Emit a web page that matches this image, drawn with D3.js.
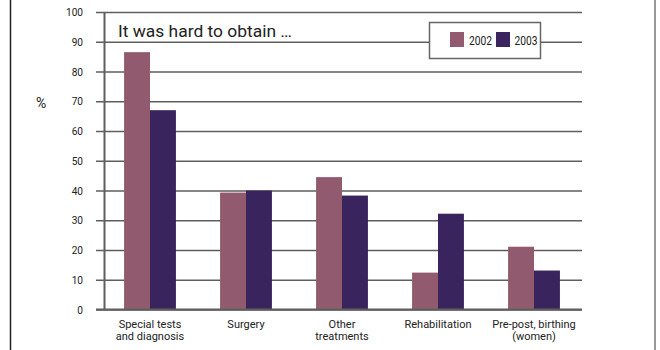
<!DOCTYPE html>
<html><head><meta charset="utf-8">
<script src="https://cdn.jsdelivr.net/npm/d3@7"></script>
<style>
body{margin:0;background:#fff;}
text{font-family:"Roboto","Liberation Sans",sans-serif;fill:#222;}
</style></head>
<body><svg id="c" width="660" height="350"></svg>
<script>
const categories = [["Special tests","and diagnosis"],["Surgery"],["Other","treatments"],["Rehabilitation"],["Pre-post, birthing","(women)"]];
const series = ["2002","2003"];
const values2002 = [86.5, 39.3, 44.5, 12.4, 21.1];
const values2003 = [67, 40, 38.3, 32.2, 13.1];
const yTicks = [0,10,20,30,40,50,60,70,80,90,100];
const colors = ["#925a6f","#3a245d"];

(function(){
const svg = d3.select("#c");
const mLeft = 104, mRight = 582, mTop = 12, mBottom = 309.5;
const x = d3.scaleBand().domain(d3.range(categories.length)).range([mLeft-2, mRight]).paddingInner(0.46).paddingOuter(0.23);
const x1 = d3.scaleBand().domain(series).range([0, x.bandwidth()]);
const y = d3.scaleLinear().domain([0,100]).range([mBottom, mTop]);

svg.append("line").attr("x1",10.5).attr("x2",10.5).attr("y1",0).attr("y2",350).attr("stroke","#222").attr("stroke-width",1.5);
svg.append("line").attr("x1",655).attr("x2",655).attr("y1",0).attr("y2",350).attr("stroke","#555").attr("stroke-width",1.2);

const yAxis = d3.axisLeft(y).tickValues(yTicks).tickSize(-(mRight-mLeft)).tickPadding(21).tickSizeOuter(0);
const ga = svg.append("g").attr("transform",`translate(${mLeft},0)`).call(yAxis);
ga.select(".domain").attr("stroke","#5e5e5e").attr("stroke-width",2);
ga.selectAll(".tick line").attr("stroke","#5e5e5e").attr("stroke-width",1.7).attr("x1",-8);
ga.selectAll(".tick text").attr("font-size",11.5).attr("fill","#222").attr("font-family","Roboto,sans-serif")
  .attr("transform","scale(0.88,1)").attr("x",-21/0.88);

svg.append("text").attr("x",118).attr("y",37).attr("font-size",17).attr("textLength",174).attr("lengthAdjust","spacingAndGlyphs").text("It was hard to obtain …");

const lg = svg.append("g");
lg.append("rect").attr("x",429.5).attr("y",22.5).attr("width",111).attr("height",36).attr("fill","#fff").attr("stroke","#666").attr("stroke-width",1.5);
series.forEach((s,i)=>{
  lg.append("rect").attr("x",450+i*46).attr("y",32).attr("width",14).attr("height",15).attr("fill",colors[i]);
  lg.append("text").attr("x",469+i*45.5).attr("y",45).attr("font-size",12.5).attr("textLength",23).attr("lengthAdjust","spacingAndGlyphs").text(s);
});

const data = [values2002, values2003];
series.forEach((s,si)=>{
  svg.append("g").selectAll("rect").data(data[si]).join("rect")
    .attr("x",(d,i)=>x(i)+x1(s))
    .attr("width",x1.bandwidth())
    .attr("y",d=>y(d))
    .attr("height",d=>y(0)-y(d))
    .attr("fill",colors[si]);
});

svg.append("line").attr("x1",mLeft-8).attr("x2",mRight).attr("y1",y(0)).attr("y2",y(0)).attr("stroke","#5e5e5e").attr("stroke-width",2);

categories.forEach((lines,i)=>{
  const cx = x(i)+x.bandwidth()/2;
  lines.forEach((l,j)=>svg.append("text").attr("x",cx).attr("y",327.5+j*12.5).attr("text-anchor","middle").attr("font-size",11).text(l));
});

svg.append("text").attr("x",36).attr("y",108).attr("font-size",14).text("%");
})();
</script></body></html>
